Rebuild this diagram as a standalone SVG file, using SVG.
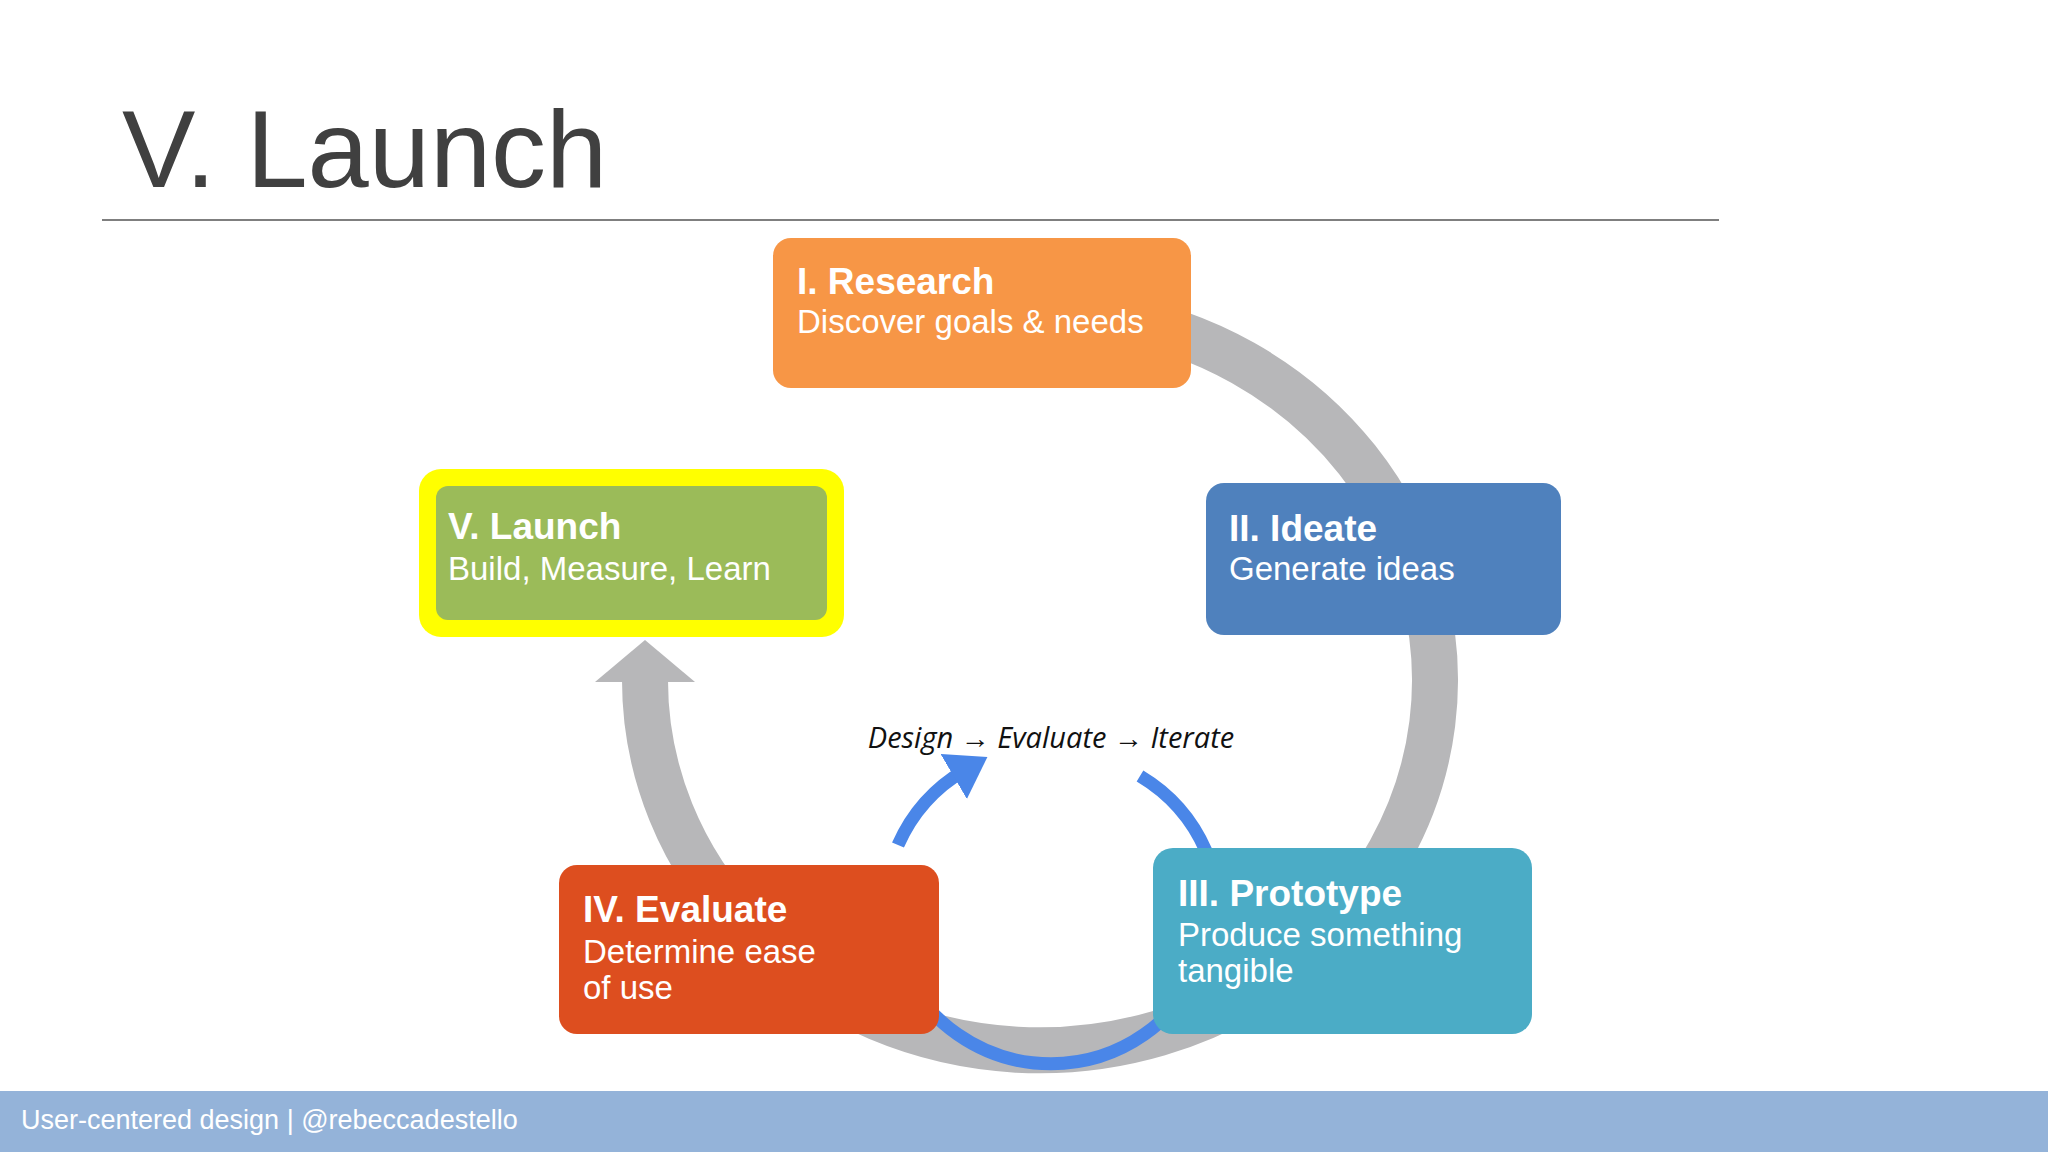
<svg xmlns="http://www.w3.org/2000/svg" width="2048" height="1152" viewBox="0 0 2048 1152">
<style>
.t{font-family:"Liberation Sans",Arial,sans-serif;fill:#fff}
.h{font-weight:bold;font-size:37px}
.s{font-size:33px}
</style>
<defs>
<marker id="ba" markerWidth="4" markerHeight="4" refX="1" refY="2" orient="auto" markerUnits="strokeWidth"><path d="M0,0 L3,2 L0,4 z" fill="#4a86e8"/></marker>
</defs>
<rect width="2048" height="1152" fill="#fff"/>
<text x="122" y="187" font-family="Liberation Sans,Arial,sans-serif" font-size="110" fill="#404040">V. Launch</text>
<line x1="102" y1="220" x2="1719" y2="220" stroke="#7f7f7f" stroke-width="2"/>
<g id="connectors">
<path d="M1109,316 A395,370 0 1 1 645,680" fill="none" stroke="#b7b7b9" stroke-width="46"/>
<path d="M595,682 L695,682 L645,640 z" fill="#b7b7b9"/>
<path d="M898,845 A163,163 0 0 1 965,770" fill="none" stroke="#4a86e8" stroke-width="13" marker-end="url(#ba)"/>
<path d="M1140,776 A163,163 0 0 1 1206,851" fill="none" stroke="#4a86e8" stroke-width="13"/>
<path d="M1204,957 A163,163 0 0 1 898,957" fill="none" stroke="#4a86e8" stroke-width="13"/>
</g>
<text x="1051" y="748" text-anchor="middle" font-family="Open Sans,sans-serif" font-style="italic" font-size="29" fill="#111">Design → Evaluate → Iterate</text>
<g id="research"><rect x="773" y="238" width="418" height="150" rx="18" fill="#f79646"/>
<text class="t h" x="797" y="294">I. Research</text><text class="t s" x="797" y="333">Discover goals &amp; needs</text></g>
<g id="ideate"><rect x="1206" y="483" width="355" height="152" rx="18" fill="#4f81bd"/>
<text class="t h" x="1229" y="541">II. Ideate</text><text class="t s" x="1229" y="580">Generate ideas</text></g>
<g id="prototype"><rect x="1153" y="848" width="379" height="186" rx="20" fill="#4bacc6"/>
<text class="t h" x="1178" y="906">III. Prototype</text><text class="t s" x="1178" y="946">Produce something</text><text class="t s" x="1178" y="982">tangible</text></g>
<g id="evaluate"><rect x="559" y="865" width="380" height="169" rx="18" fill="#dd4e1f"/>
<text class="t h" x="583" y="922">IV. Evaluate</text><text class="t s" x="583" y="963">Determine ease</text><text class="t s" x="583" y="999">of use</text></g>
<g id="launch"><rect x="419" y="469" width="425" height="168" rx="22" fill="#ffff00"/>
<rect x="436" y="486" width="391" height="134" rx="12" fill="#9bbb59"/>
<text class="t h" x="448" y="539">V. Launch</text><text class="t s" x="448" y="580">Build, Measure, Learn</text></g>
<rect x="0" y="1091" width="2048" height="61" fill="#94b3d9"/>
<text x="21" y="1129" font-family="Liberation Sans,Arial,sans-serif" font-size="27" fill="#fff">User-centered design | @rebeccadestello</text>
</svg>
